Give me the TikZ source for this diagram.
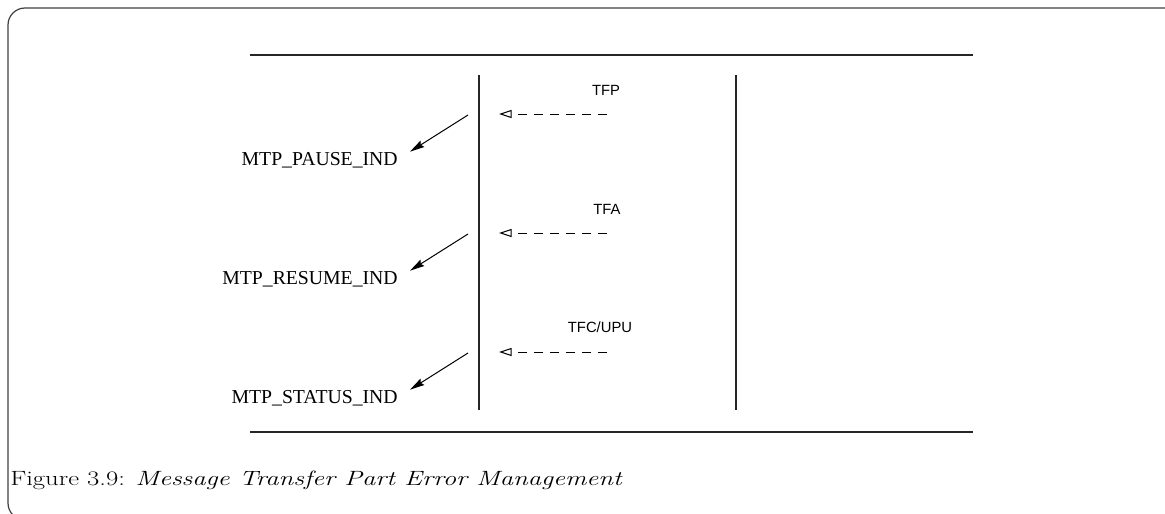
\documentclass[tikz,border=0pt]{standalone}
\usepackage{fontspec}
\newfontfamily\figserif{Liberation Serif}
\newfontfamily\figsans{Liberation Sans}
\usetikzlibrary{arrows.meta}
\begin{document}
\begin{tikzpicture}[x=0.75pt,y=-0.75pt,
  rule/.style={line width=1.1pt, draw=black!85},
  lifeline/.style={line width=1.1pt, draw=black!85},
  primitive/.style={font=\figserif\fontsize{14.8}{17}\selectfont, inner sep=0pt, anchor=base east},
  signal/.style={font=\figsans\fontsize{11.1}{13}\selectfont, inner sep=0pt},
  indarrow/.style={line width=0.75pt, -{Stealth[length=11pt,width=5.5pt,inset=1.5pt]}},
  msgarrow/.style={line width=0.75pt, dash pattern=on 6.75pt off 5.25pt,
    -{Triangle[open,length=9.5pt,width=6pt]}},
  framebox/.style={line width=0.9pt, draw=black!75, rounded corners=12.75pt}]
  \clip (0,0) rectangle (1165,514);
  % page frame
  \draw[framebox] (8,8) rectangle (1200,520);
  % horizontal rules
  \coordinate (rt1) at (250,55);  \coordinate (rt2) at (973,55);
  \coordinate (rb1) at (250,432); \coordinate (rb2) at (973,432);
  \draw[rule] (rt1) -- (rt2);
  \draw[rule] (rb1) -- (rb2);
  % vertical lines
  \coordinate (la) at (479,75);  \coordinate (lb) at (479,410);
  \coordinate (ra) at (736,75);  \coordinate (rb) at (736,410);
  \draw[lifeline] (la) -- (lb);
  \draw[lifeline] (ra) -- (rb);
  % incoming signals
  \node[signal] (tfp) at (606,90) {TFP};
  \node[signal] (tfa) at (607,209) {TFA};
  \node[signal] (tfc) at (600,327) {TFC/UPU};
  \coordinate (m1a) at (607,114); \coordinate (m1b) at (499,114);
  \coordinate (m2a) at (607,233); \coordinate (m2b) at (499,233);
  \coordinate (m3a) at (607,352); \coordinate (m3b) at (499,352);
  \draw[msgarrow] (m1a) -- (m1b);
  \draw[msgarrow] (m2a) -- (m2b);
  \draw[msgarrow] (m3a) -- (m3b);
  % indications to the user
  \node[primitive] (pause) at (398,165) {MTP\_PAUSE\_IND};
  \node[primitive] (resume) at (398,284) {MTP\_RESUME\_IND};
  \node[primitive] (status) at (398,403) {MTP\_STATUS\_IND};
  \coordinate (i1) at (468,115);
  \coordinate (i2) at (468,234);
  \coordinate (i3) at (468,353);
  \draw[indarrow] (i1) -- ([xshift=12*0.75pt]pause.north east);
  \draw[indarrow] (i2) -- ([xshift=12*0.75pt]resume.north east);
  \draw[indarrow] (i3) -- ([xshift=12*0.75pt]status.north east);
  % caption
  \node[inner sep=0pt, anchor=base west] (caption) at (10,485)
    {\fontsize{15.5}{18}\selectfont\scalebox{1.29}[1]{Figure 3.9: \textit{Message Transfer Part Error Management}}};
\end{tikzpicture}
\end{document}
